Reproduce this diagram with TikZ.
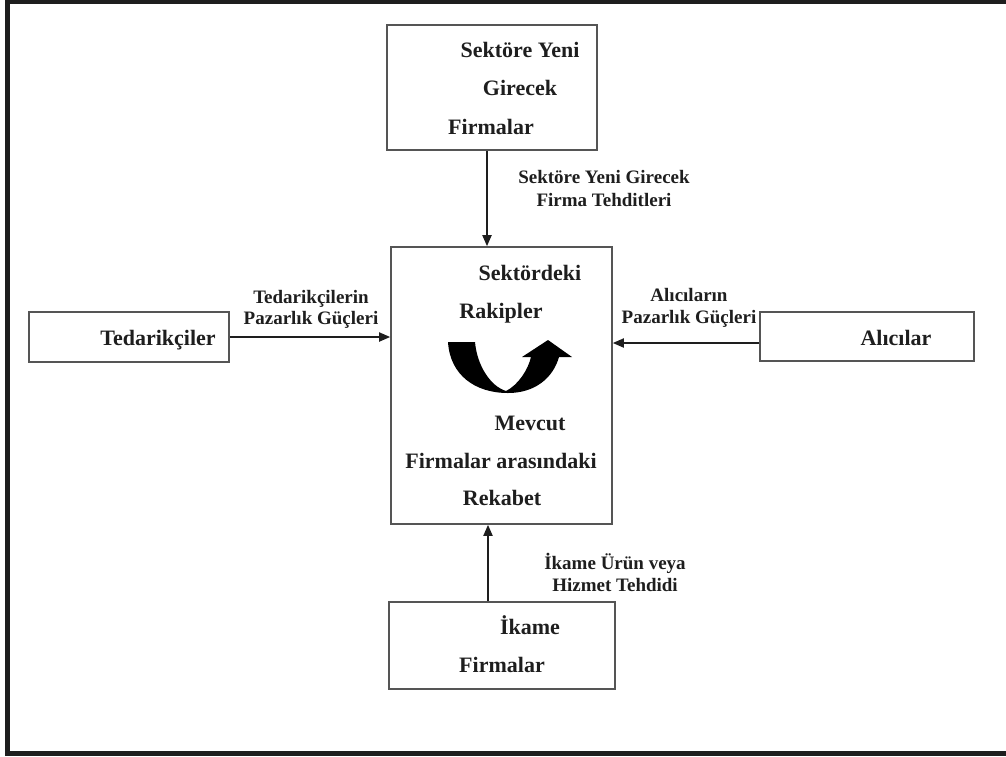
\documentclass[tikz,border=0pt]{standalone}
\usepackage{fontspec}
\setmainfont{Liberation Serif}
\usetikzlibrary{arrows.meta,calc}
\definecolor{boxline}{HTML}{555555}
\definecolor{ink}{HTML}{1E1E1E}
\tikzset{
  box/.style={draw=boxline,line width=1.6pt,inner sep=0pt,fill=none},
  conn/.style={draw=ink,line width=1.8pt,-{Triangle[length=11pt,width=9pt]}},
  mtxt/.style={font=\fontsize{22}{24}\selectfont\bfseries,text=ink,inner sep=0pt,text height=14.6pt,text depth=0pt,anchor=center},
  stxt/.style={font=\fontsize{19}{21}\selectfont\bfseries,text=ink,inner sep=0pt,text height=12.6pt,text depth=0pt,anchor=center},
}
\begin{document}
\begin{tikzpicture}[x=1pt,y=-1pt]
\useasboundingbox (0,0) rectangle (1006,756);
\begin{scope}
\clip (0,0) rectangle (1006,756);
\draw[line width=5pt,ink] (7,1.5) rectangle (1012,753);
\end{scope}
% boxes
\node[box,minimum width=210pt,minimum height=125pt] (top) at (492,87.5) {};
\node[box,minimum width=221pt,minimum height=277pt] (mid) at (501.5,385.5) {};
\node[box,minimum width=200pt,minimum height=50pt] (ted) at (129,337) {};
\node[box,minimum width=214pt,minimum height=49pt] (alc) at (867,336.5) {};
\node[box,minimum width=226pt,minimum height=87pt] (ikm) at (502,645.5) {};
% box texts
\node[mtxt] (t1) at (520,50) {Sektöre Yeni};
\node[mtxt] (t2) at (520,88) {Girecek};
\node[mtxt] (t3) at (491,127) {Firmalar};
\node[mtxt] (m1) at (530,273) {Sektördeki};
\node[mtxt] (m2) at (501,311) {Rakipler};
\node[mtxt] (m3) at (530,423) {Mevcut};
\node[mtxt] (m4) at (501,461) {Firmalar arasındaki};
\node[mtxt] (m5) at (502,498) {Rekabet};
\node[mtxt] (d1) at (158,338) {Tedarikçiler};
\node[mtxt] (a1) at (896,338) {Alıcılar};
\node[mtxt] (i1) at (530,627) {İkame};
\node[mtxt] (i2) at (502,665) {Firmalar};
% connector labels
\node[stxt] (l1) at (604,177) {Sektöre Yeni Girecek};
\node[stxt] (l2) at (604,200) {Firma Tehditleri};
\node[stxt] (l3) at (311,297) {Tedarikçilerin};
\node[stxt] (l4) at (311,318) {Pazarlık Güçleri};
\node[stxt] (l5) at (689,295) {Alıcıların};
\node[stxt] (l6) at (689,317) {Pazarlık Güçleri};
\node[stxt] (l7) at (615,563) {İkame Ürün veya};
\node[stxt] (l8) at (615,585) {Hizmet Tehdidi};
% connectors
\draw[conn] ([xshift=-5pt]top.south) -- ([xshift=-5pt]top.south |- mid.north);
\draw[conn] (ted.east) -- (ted.east -| mid.west);
\draw[conn] ([yshift=-6.5pt]alc.west) -- ([yshift=-6.5pt]alc.west -| mid.east);
\draw[conn] ([xshift=-14pt]ikm.north) -- ([xshift=-14pt]ikm.north |- mid.south);
% curved U-turn arrow
\fill[black] (448,342) -- (475,342)
  .. controls (477,365) and (490,386) .. (506,391)
  .. controls (518,385) and (528,370) .. (531,357)
  -- (522,357) -- (548,340) -- (572,357) -- (559,357)
  .. controls (553,378) and (535,393) .. (508,393)
  .. controls (475,393) and (450,375) .. (448,342) -- cycle;
\end{tikzpicture}
\end{document}
